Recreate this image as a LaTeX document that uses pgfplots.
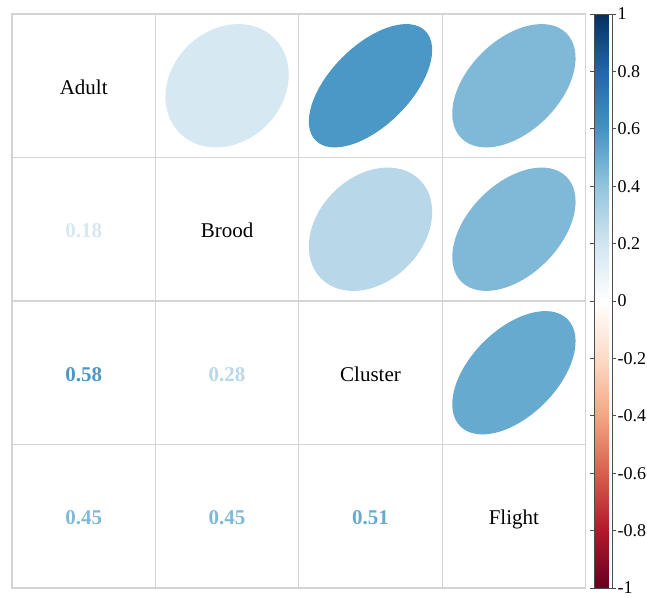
\documentclass[border=0pt]{standalone}
\usepackage{fontspec}
\setmainfont{Liberation Serif}
\usepackage{pgfplots}
\usepackage{pgfplotstable}
\pgfplotsset{compat=1.18}

% correlation matrix: upper triangle as ellipses, lower triangle as numbers
\pgfplotstableread{
x y r
2 4 0.18
3 4 0.58
4 4 0.45
3 3 0.28
4 3 0.45
4 2 0.51
}\corrupper
\pgfplotstableread{
x y r
1 3 0.18
1 2 0.58
2 2 0.28
1 1 0.45
2 1 0.45
3 1 0.51
}\corrlower

\definecolor{gridgray}{RGB}{212,212,212}

% ellipse whose axes follow the correlation \corr
\pgfdeclareplotmark{correll}{%
  \pgfmathsetmacro\ellA{87.2*cos(acos(\corr)/2)}%
  \pgfmathsetmacro\ellB{87.2*sin(acos(\corr)/2)}%
  \pgfscope
  \pgftransformrotate{45}%
  \pgfpathellipse{\pgfpointorigin}{\pgfpoint{\ellA pt}{0pt}}{\pgfpoint{0pt}{\ellB pt}}%
  \pgfusepathqfill
  \endpgfscope}
\pgfdeclareplotmark{corrnone}{}

\begin{document}
\begin{tikzpicture}
\path[use as bounding box] (-12pt,-9pt) rectangle (635pt,588pt);
\begin{axis}[
  at={(0pt,0pt)}, anchor=south west,
  x=143.4pt, y=143.5pt,
  xmin=0.5, xmax=4.5, ymin=0.5, ymax=4.5,
  xtick={0.5,1.5,2.5,3.5,4.5}, ytick={0.5,1.5,2.5,3.5,4.5},
  xticklabels={}, yticklabels={},
  major tick length=0pt,
  grid=major,
  major grid style={draw=gridgray, line width=1.2pt},
  axis line style={draw=gridgray, line width=1.2pt},
  colormap={corrRdBu}{rgb255=(103,0,31) rgb255=(178,24,43) rgb255=(214,96,77)
    rgb255=(244,165,130) rgb255=(253,219,199) rgb255=(255,255,255)
    rgb255=(209,229,240) rgb255=(146,197,222) rgb255=(67,147,195)
    rgb255=(33,102,172) rgb255=(5,48,97)},
  point meta min=-1, point meta max=1,
  colorbar,
  colorbar style={
    at={(parent axis.north east)}, anchor=north west, xshift=0pt,
    width=18pt,
    grid=none,
    axis line style={draw=black!70, line width=0.6pt},
    ytick={-1,-0.8,-0.6,-0.4,-0.2,0,0.2,0.4,0.6,0.8,1},
    yticklabels={-1,-0.8,-0.6,-0.4,-0.2,0,0.2,0.4,0.6,0.8,1},
    yticklabel style={font=\fontsize{18}{20}\selectfont, xshift=-2pt},
    major tick length=4pt,
    tick align=outside,
    major tick style={draw=black!70, line width=0.6pt},
  },
  clip=false,
]
\addplot[scatter, only marks, mark=correll,
  point meta=\thisrow{r},
  visualization depends on={\thisrow{r}\as\corr},
  scatter/use mapped color={draw=mapped color, fill=mapped color}]
  table[x=x, y=y] {\corrupper};

\addplot[scatter, only marks, mark=corrnone,
  point meta=\thisrow{r},
  scatter/use mapped color={draw=mapped color, fill=mapped color},
  nodes near coords*={\pgfmathprintnumber[fixed, fixed zerofill, precision=2, assume math mode=true]{\pgfplotspointmeta}},
  every node near coord/.append style={text=mapped color, anchor=base, yshift=-8.5pt,
    font=\fontsize{21}{22}\selectfont\bfseries}]
  table[x=x, y=y] {\corrlower};

\foreach \n/\lab in {1/Adult, 2/Brood, 3/Cluster, 4/Flight} {
  \edef\tmp{\noexpand\node[anchor=base, yshift=-8.5pt,
    font=\noexpand\fontsize{21}{22}\noexpand\selectfont]
    at (axis cs:\n,{5-\n}) {\lab};}
  \tmp
}
\end{axis}
\end{tikzpicture}
\end{document}
